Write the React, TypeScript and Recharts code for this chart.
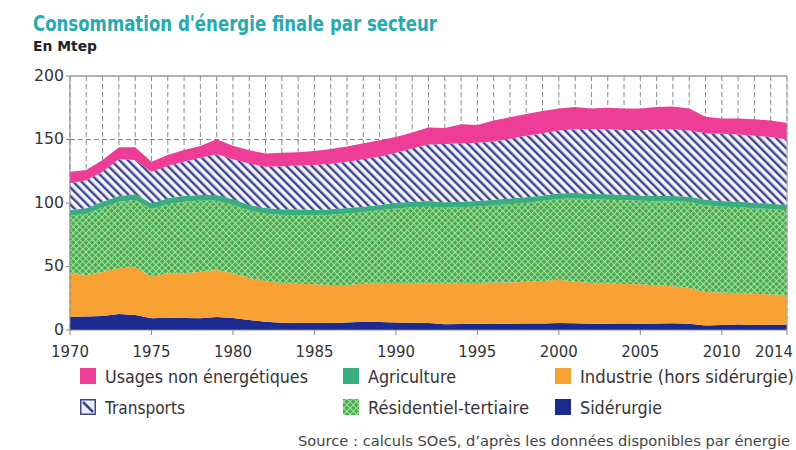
import React from "react";
import {
  AreaChart,
  Area,
  XAxis,
  YAxis,
  CartesianGrid,
  ReferenceLine,
  Legend,
} from "recharts";

// Final energy consumption by sector, France (Mtep)
const years = [
  1970, 1971, 1972, 1973, 1974, 1975, 1976, 1977, 1978, 1979,
  1980, 1981, 1982, 1983, 1984, 1985, 1986, 1987, 1988, 1989,
  1990, 1991, 1992, 1993, 1994, 1995, 1996, 1997, 1998, 1999,
  2000, 2001, 2002, 2003, 2004, 2005, 2006, 2007, 2008, 2009,
  2010, 2011, 2012, 2013, 2014,
];

const siderurgie = [
  10.5, 10.6, 11, 12.6, 11.8, 9.2, 9.7, 9.4, 9.2, 10.2,
  9.4, 7.9, 6.5, 5.7, 5.5, 5.5, 5.5, 6, 6.5, 6.3,
  6, 5.8, 5.5, 4.5, 4.8, 5, 4.8, 5, 5.2, 5.2,
  5.5, 5.3, 5, 5, 5.2, 5, 5.2, 5.3, 5, 3.5,
  4, 4.3, 4, 4.2, 4.3,
];

const industrie = [
  34.1, 32.7, 34.9, 36, 37.6, 32.8, 34.9, 35.2, 36.7, 37,
  35.2, 33.1, 32, 31.3, 31, 30.5, 30, 29.5, 30, 30.7,
  31, 31.2, 31.3, 32, 32.2, 32, 32.7, 32.5, 32.8, 33.3,
  34, 32.7, 32, 31.7, 31.1, 31, 29.8, 29.2, 28, 26.5,
  25.5, 24.7, 24.5, 23.8, 23.2,
];

const residentiel = [
  45.4, 48, 50.5, 52.3, 53, 53.3, 54.6, 56.4, 55.9, 54.5,
  53.8, 53.1, 53.1, 53.6, 54.1, 54.2, 55.2, 56.2, 56.2, 57.2,
  58.7, 59.6, 60.3, 59.7, 59.7, 60.2, 60.6, 61.6, 62.1, 63.1,
  63.6, 65.6, 65.7, 65.8, 65.9, 65.7, 66.2, 66.8, 67.7, 68.3,
  67.6, 67.8, 67.2, 67.2, 66.7,
];

const agriculture = [
  4.5, 4.5, 4.6, 4.6, 4.5, 4.5, 4.5, 4.5, 4.5, 4.6,
  4.5, 4.4, 4.4, 4.4, 4.4, 4.3, 4.3, 4.3, 4.3, 4.3,
  4.3, 4.4, 4.4, 4.3, 4.3, 4.3, 4.4, 4.4, 4.4, 4.4,
  4.4, 4.4, 4.3, 4.3, 4.3, 4.3, 4.3, 4.2, 4.3, 4.2,
  4.4, 4.2, 4.3, 4.3, 4.3,
];

const transports = [
  21, 22.2, 23.6, 28.9, 27, 24.8, 25.4, 27, 29.4, 32,
  31.5, 32.5, 32.6, 34, 34.5, 35.5, 36, 36.5, 37.5, 38,
  39.5, 42, 44.5, 46, 46, 46, 46, 47, 48.5, 49,
  49.5, 50, 51, 51.2, 51, 51.5, 52.3, 52.5, 52, 52.5,
  53, 53, 53, 52.5, 51.5,
];

const usagesNonEnergetiques = [
  9.1, 8, 9.3, 9.5, 10, 7.9, 8.7, 9.2, 9.2, 11.9,
  10.6, 10.5, 10.4, 10.5, 10.5, 11, 11.5, 12, 12.5, 13,
  12.5, 12.5, 13.5, 12.5, 15, 14, 16.5, 17, 17, 17.5,
  17.5, 17.5, 16.5, 17, 17, 17, 17.7, 18, 17.5, 13,
  12, 12.5, 13, 13, 13,
];

const xTicks = [1970, 1975, 1980, 1985, 1990, 1995, 2000, 2005, 2010, 2014];
const yTicks = [0, 50, 100, 150, 200];

const data = years.map((year, i) => ({
  year,
  siderurgie: siderurgie[i],
  industrie: industrie[i],
  residentiel: residentiel[i],
  agriculture: agriculture[i],
  transports: transports[i],
  usages: usagesNonEnergetiques[i],
}));

const FONT =
  '"Liberation Sans Narrow", "DejaVu Sans Condensed", "Open Sans", "Liberation Sans", sans-serif';

const COLORS = {
  usages: "#ee3d96",
  agriculture: "#38ad7d",
  industrie: "#f9a234",
  siderurgie: "#1a2a8e",
  stripe: "#3d4592",
  greenDark: "#47aa51",
  greenLight: "#ace29e",
};

// legend rows: label, series key, swatch position, text width
const legendItems = [
  { label: "Usages non énergétiques", key: "usages", x: 80, y: 368, w: 203 },
  { label: "Agriculture", key: "agriculture", x: 343, y: 368, w: 88 },
  { label: "Industrie (hors sidérurgie)", key: "industrie", x: 555, y: 368, w: 214 },
  { label: "Transports", key: "transports", x: 80, y: 399, w: 80 },
  { label: "Résidentiel-tertiaire", key: "residentiel", x: 343, y: 399, w: 161 },
  { label: "Sidérurgie", key: "siderurgie", x: 555, y: 399, w: 82 },
];

const YTick = (props: any) => {
  const { x, y, payload } = props;
  const s = String(payload.value);
  return (
    <text
      x={x}
      y={y + 4.5}
      textAnchor="end"
      fontSize={15}
      fontFamily={FONT}
      fill="#333"
      textLength={s.length * 10}
      lengthAdjust="spacingAndGlyphs"
    >
      {s}
    </text>
  );
};

const XTick = (props: any) => {
  const { x, y, payload } = props;
  const last = payload.value === 2014;
  return (
    <text
      x={last ? x + 6 : x}
      y={y + 20}
      textAnchor={last ? "end" : "middle"}
      fontSize={16}
      fontFamily={FONT}
      fill="#333"
      textLength={38}
      lengthAdjust="spacingAndGlyphs"
    >
      {payload.value}
    </text>
  );
};

const Swatch = ({ k, x, y }: { k: string; x: number; y: number }) => {
  if (k === "transports") {
    return (
      <g>
        <rect x={x + 0.75} y={y + 0.75} width={14.5} height={14.5} fill="#eef0f8" stroke={COLORS.stripe} strokeWidth={1.5} />
        <line x1={x + 3} y1={y + 3} x2={x + 13} y2={y + 13} stroke={COLORS.stripe} strokeWidth={2.5} />
      </g>
    );
  }
  if (k === "residentiel") {
    return <rect x={x} y={y} width={16} height={16} fill="url(#resPattern)" />;
  }
  return <rect x={x} y={y} width={16} height={16} fill={(COLORS as any)[k]} />;
};

const LegendBlock = () => (
  <svg width={796} height={450} style={{ display: "block" }}>
    {legendItems.map((it) => (
      <g key={it.key}>
        <Swatch k={it.key} x={it.x} y={it.y} />
        <text
          x={it.x + 25}
          y={it.y + 15}
          fontSize={17}
          fontFamily={FONT}
          fill="#333"
          textLength={it.w}
          lengthAdjust="spacingAndGlyphs"
        >
          {it.label}
        </text>
      </g>
    ))}
  </svg>
);

export default function App() {
  return (
    <div style={{ position: "absolute", left: 0, top: 0, width: 796, height: 450, background: "#fff" }}>
      <svg width={796} height={450} style={{ position: "absolute", left: 0, top: 0 }}>
        <text
          x={33}
          y={31}
          fontSize={22}
          fontWeight="bold"
          fontFamily={FONT}
          fill="#27a9b0"
          textLength={404}
          lengthAdjust="spacingAndGlyphs"
        >
          Consommation d'énergie finale par secteur
        </text>
        <text
          x={33}
          y={51}
          fontSize={14}
          fontWeight="bold"
          fontFamily={FONT}
          fill="#222"
          textLength={64}
          lengthAdjust="spacingAndGlyphs"
        >
          En Mtep
        </text>
        <text
          x={298}
          y={446}
          fontSize={14}
          fontFamily={FONT}
          fill="#444"
          textLength={492}
          lengthAdjust="spacingAndGlyphs"
        >
          Source : calculs SOeS, d’après les données disponibles par énergie
        </text>
      </svg>
      <div style={{ position: "absolute", left: 0, top: 0 }}>
        <AreaChart
          width={796}
          height={450}
          data={data}
          margin={{ top: 76, right: 9, left: 30, bottom: 90 }}
        >
          <defs>
            <pattern id="stripePattern" patternUnits="userSpaceOnUse" width={6} height={6} patternTransform="rotate(-45)">
              <rect width={6} height={6} fill="#f3f5fb" />
              <rect width={2.4} height={6} fill={COLORS.stripe} />
            </pattern>
            <pattern id="resPattern" patternUnits="userSpaceOnUse" width={4.5} height={4.5} patternTransform="rotate(45)">
              <rect width={4.5} height={4.5} fill={COLORS.greenDark} />
              <rect width={4.5} height={1} fill={COLORS.greenLight} />
              <rect width={1} height={4.5} fill={COLORS.greenLight} />
            </pattern>
          </defs>
          <CartesianGrid
            stroke="#8a8a8a"
            strokeDasharray="5 3"
            verticalValues={years}
            horizontalValues={[50, 100, 150]}
          />
          <XAxis
            dataKey="year"
            type="number"
            domain={[1970, 2014]}
            ticks={xTicks}
            interval={0}
            height={30}
            tickSize={5}
            tickMargin={2}
            stroke="#888"
            tick={<XTick />}
          />
          <YAxis
            domain={[0, 200]}
            ticks={yTicks}
            width={40}
            tickSize={4}
            tickMargin={2}
            stroke="#888"
            tick={<YTick />}
          />
          <ReferenceLine y={200} stroke="#999" strokeWidth={1.5} />
          <ReferenceLine x={2014} stroke="#aaa" />
          <Area type="linear" dataKey="siderurgie" stackId="a" stroke="none" fill={COLORS.siderurgie} fillOpacity={1} isAnimationActive={false} />
          <Area type="linear" dataKey="industrie" stackId="a" stroke="none" fill={COLORS.industrie} fillOpacity={1} isAnimationActive={false} />
          <Area type="linear" dataKey="residentiel" stackId="a" stroke="none" fill="url(#resPattern)" fillOpacity={1} isAnimationActive={false} />
          <Area type="linear" dataKey="agriculture" stackId="a" stroke="none" fill={COLORS.agriculture} fillOpacity={1} isAnimationActive={false} />
          <Area type="linear" dataKey="transports" stackId="a" stroke="none" fill="url(#stripePattern)" fillOpacity={1} isAnimationActive={false} />
          <Area type="linear" dataKey="usages" stackId="a" stroke="none" fill={COLORS.usages} fillOpacity={1} isAnimationActive={false} />
          <Legend
            layout="horizontal"
            verticalAlign="middle"
            align="center"
            wrapperStyle={{ position: "absolute", left: 0, top: 0, width: 796, height: 450, pointerEvents: "none" }}
            content={() => <LegendBlock />}
          />
        </AreaChart>
      </div>
    </div>
  );
}
